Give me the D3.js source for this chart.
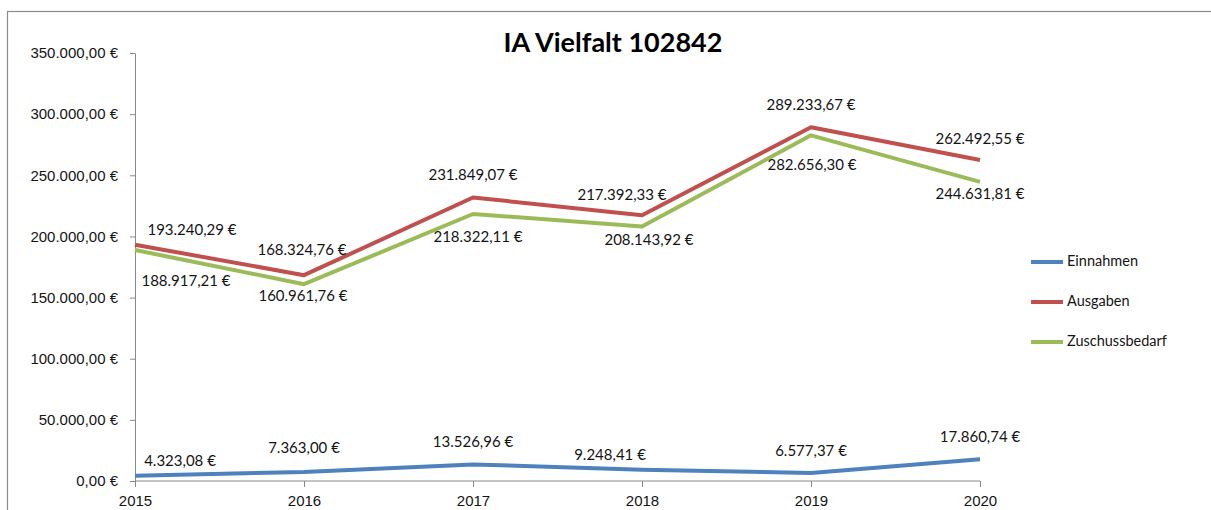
<!DOCTYPE html>
<html>
<head>
<meta charset="utf-8">
<script src="https://cdn.jsdelivr.net/npm/d3@7"></script>
<style>
  body { margin: 0; background: #fff; }
  svg { display: block; font-family: Lato, "Open Sans", sans-serif; }
  .axis text { font-size: 15px; fill: #141414; }
  .axis line, .axis path { stroke: #898989; }
  .point-label { font-size: 15px; fill: #141414; }
  .legend text { font-size: 14.5px; fill: #141414; }
</style>
</head>
<body>
<div id="chart"></div>
<script>
// chart values
const years = ['2015', '2016', '2017', '2018', '2019', '2020'];
const einnahmen = [4323.08, 7363.00, 13526.96, 9248.41, 6577.37, 17860.74];
const ausgaben = [193240.29, 168324.76, 231849.07, 217392.33, 289233.67, 262492.55];
const zuschussbedarf = [188917.21, 160961.76, 218322.11, 208143.92, 282656.30, 244631.81];
const seriesNames = ['Einnahmen', 'Ausgaben', 'Zuschussbedarf'];
const yTicks = [0, 50000, 100000, 150000, 200000, 250000, 300000, 350000];

const colors = ['#4f81bd', '#c0504d', '#9bbb59'];

// label nudges [dx, dy] relative to the point, as placed in the original
const labelNudge = {
    Einnahmen: [[45, -14], [0, -23], [0, -21], [-32, -13], [0, -21], [0, -21]],
    Ausgaben: [[57, -13], [-2, -24], [0, -21], [-20, -19], [0, -21], [0, -20]],
    Zuschussbedarf: [[51, 32], [-1, 13], [5, 24], [7, 15], [1, 31], [0, 13]]
};

const width = 1211, height = 510;
const margin = { top: 53, right: 231, bottom: 29, left: 135 };
const innerW = width - margin.left - margin.right;
const innerH = height - margin.top - margin.bottom;

const euro = v => {
    const f = d3.formatLocale({ decimal: ',', thousands: '.', grouping: [3], currency: ['', '\u00a0€'] });
    return f.format('$,.2f')(v);
};

const svg = d3.select('#chart').append('svg')
    .attr('width', width)
    .attr('height', height);

// chart frame
svg.append('rect')
    .attr('x', 7.5).attr('y', 11.5)
    .attr('width', width + 10).attr('height', height + 10)
    .attr('fill', '#fff')
    .attr('stroke', '#8c8c8c')
    .attr('stroke-width', 1.2);

svg.append('text')
    .attr('x', 613).attr('y', 45)
    .attr('text-anchor', 'middle')
    .attr('dominant-baseline', 'middle')
    .style('font-size', '27px')
    .style('font-weight', 'bold')
    .attr('fill', '#000')
    .text('IA Vielfalt 102842');

const chart = svg.append('g')
    .attr('transform', `translate(${margin.left},${margin.top})`);

const xScale = d3.scalePoint().domain(years).range([0, innerW]);
const yScale = d3.scaleLinear().domain([0, 350000]).range([innerH, 0]);

const yAxis = d3.axisLeft(yScale).tickValues(yTicks).tickFormat(euro).tickSize(5).tickSizeOuter(0).tickPadding(12);
const xAxis = d3.axisBottom(xScale).tickSize(6).tickSizeOuter(0).tickPadding(8);

chart.append('g')
    .attr('class', 'axis y-axis')
    .call(yAxis);

chart.append('g')
    .attr('class', 'axis x-axis')
    .attr('transform', `translate(0,${innerH})`)
    .call(xAxis)
    .call(g => g.select('.domain').attr('d', `M0,0H${innerW}`));

const series = seriesNames.map((name, i) => ({
    name,
    color: colors[i],
    values: [einnahmen, ausgaben, zuschussbedarf][i].map((v, j) => ({ year: years[j], value: v, idx: j }))
}));

const line = d3.line()
    .x(d => xScale(d.year))
    .y(d => yScale(d.value))
    .curve(d3.curveLinear);

chart.selectAll('.chart-line')
    .data(series)
    .join('path')
    .attr('class', 'chart-line')
    .attr('fill', 'none')
    .attr('stroke', d => d.color)
    .attr('stroke-width', 4)
    .attr('stroke-linejoin', 'round')
    .attr('d', d => line(d.values));

// data labels
series.forEach(s => {
    chart.selectAll(null)
        .data(s.values)
        .join('text')
        .attr('class', 'point-label')
        .attr('x', d => xScale(d.year) + labelNudge[s.name][d.idx][0])
        .attr('y', d => yScale(d.value) + labelNudge[s.name][d.idx][1])
        .attr('text-anchor', 'middle')
        .attr('dominant-baseline', 'middle')
        .text(d => euro(d.value));
});

// legend
const legend = svg.append('g')
    .attr('class', 'legend')
    .attr('transform', 'translate(1031,262)');

const items = legend.selectAll('g')
    .data(series)
    .join('g')
    .attr('transform', (d, i) => `translate(0,${i * 40})`);

items.append('line')
    .attr('x1', 0).attr('x2', 32)
    .attr('stroke', d => d.color)
    .attr('stroke-width', 4);

items.append('text')
    .attr('x', 36)
    .attr('dominant-baseline', 'middle')
    .text(d => d.name);
</script>
</body>
</html>
